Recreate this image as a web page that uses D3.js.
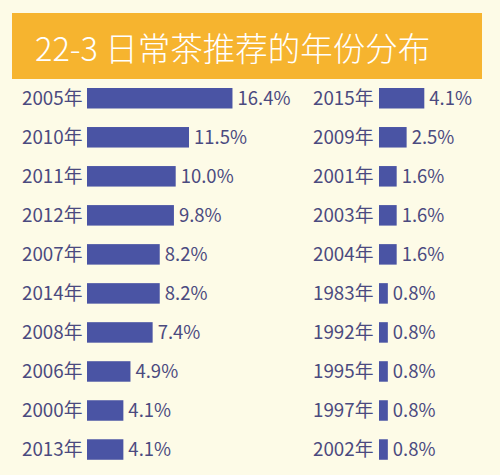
<!DOCTYPE html>
<html>
<head>
<meta charset="utf-8">
<script src="https://cdn.jsdelivr.net/npm/d3@7"></script>
<style>
  html, body { margin: 0; padding: 0; background: #fdfbe7; }
  svg { display: block; }
  text { font-family: "Noto Sans CJK SC", "Noto Sans", sans-serif; }
</style>
</head>
<body>
<svg id="chart" width="500" height="475"></svg>
<script>
const title = "22-3 日常茶推荐的年份分布";
const leftCategories = ["2005年","2010年","2011年","2012年","2007年","2014年","2008年","2006年","2000年","2013年"];
const leftValues = [16.4, 11.5, 10.0, 9.8, 8.2, 8.2, 7.4, 4.9, 4.1, 4.1];
const rightCategories = ["2015年","2009年","2001年","2003年","2004年","1983年","1992年","1995年","1997年","2002年"];
const rightValues = [4.1, 2.5, 1.6, 1.6, 1.6, 0.8, 0.8, 0.8, 0.8, 0.8];

const svg = d3.select("#chart");
const W = 500, H = 475;
const textColor = "#4b4a7f";
const barColor = "#4a54a4";

svg.append("rect").attr("x", 0).attr("y", 0).attr("width", W).attr("height", H).attr("fill", "#fdfbe7");

// title banner
svg.append("rect").attr("x", 12).attr("y", 13).attr("width", 470).attr("height", 66).attr("fill", "#f6b42f");
svg.append("text").attr("x", 35).attr("y", 61).attr("fill", "#ffffff")
  .attr("font-size", 32.5).attr("font-weight", 300).text(title);

const barH = 20.5, pitch = 39.03, firstY = 88;
const nRows = leftCategories.length;

function column(cats, vals, labelX, barX, pxPerUnit, maxV) {
  const y = d3.scaleBand().domain(cats)
    .range([firstY, firstY + (nRows - 1) * pitch + barH])
    .paddingInner(1 - barH / pitch).paddingOuter(0);
  const x = d3.scaleLinear().domain([0, maxV]).range([barX, barX + maxV * pxPerUnit]);
  const data = cats.map((c, i) => ({c, v: vals[i]}));
  const g = svg.append("g");
  g.selectAll("text.lab").data(data).join("text").attr("class", "lab")
    .attr("x", labelX).attr("y", d => y(d.c) + y.bandwidth() / 2 + 6.5)
    .attr("fill", textColor).attr("font-size", 18.8).text(d => d.c);
  g.selectAll("rect.bar").data(data).join("rect").attr("class", "bar")
    .attr("x", x(0)).attr("y", d => y(d.c))
    .attr("width", d => x(d.v) - x(0)).attr("height", y.bandwidth())
    .attr("fill", barColor);
  g.selectAll("text.val").data(data).join("text").attr("class", "val")
    .attr("x", d => x(d.v) + 5).attr("y", d => y(d.c) + y.bandwidth() / 2 + 6.5)
    .attr("fill", textColor).attr("font-size", 18.5).text(d => d3.format(".1f")(d.v) + "%");
}

column(leftCategories, leftValues, 22, 87, 8.87, 16.4);
column(rightCategories, rightValues, 313, 379, 11.05, 4.1);
</script>
</body>
</html>
